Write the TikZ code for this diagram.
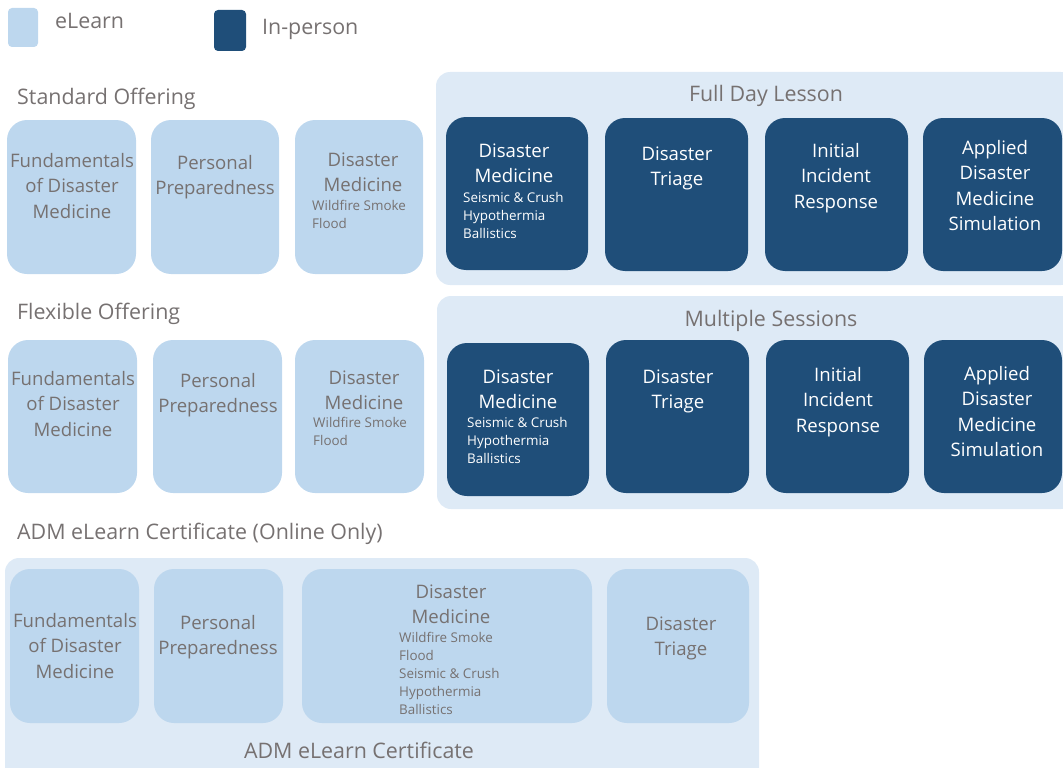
\documentclass[tikz,border=0pt]{standalone}
\usepackage{fontspec}
\setmainfont{Open Sans}
\usetikzlibrary{fit}
\definecolor{lightbox}{HTML}{BDD7EE}
\definecolor{contbg}{HTML}{DEEAF6}
\definecolor{darkbox}{HTML}{1F4E79}
\definecolor{txtgray}{HTML}{767171}
\begin{document}
\begin{tikzpicture}[x=1pt,y=-1pt,
  lbox/.style={fill=lightbox, draw=none, rounded corners=20pt, inner sep=0pt},
  dbox/.style={fill=darkbox, draw=none, rounded corners=20pt, inner sep=0pt},
  cont/.style={fill=contbg, draw=none, rounded corners=14pt, inner sep=0pt},
  legbox/.style={draw=none, rounded corners=4pt, inner sep=0pt},
  big/.style={font=\fontsize{18.6}{25.5}\selectfont, align=center, inner sep=0pt, anchor=north, text=txtgray},
  bigw/.style={big, text=white},
  small/.style={font=\fontsize{13.4}{18}\selectfont, align=left, inner sep=0pt, anchor=north west, text=txtgray},
  smallw/.style={small, text=white},
  head/.style={font=\fontsize{21.4}{25}\selectfont, inner sep=0pt, anchor=base west, text=txtgray},
  title/.style={font=\fontsize{21.4}{25}\selectfont, inner sep=0pt, anchor=base, text=txtgray}
]
\useasboundingbox (0,0) rectangle (1063,768);

% legend
\node[legbox, fill=lightbox, fit={(8,8)(38,47)}] (legL) {};
\node[head] (legLt) at (55,29) {eLearn};
\node[legbox, fill=darkbox, fit={(214,10)(246,51)}] (legD) {};
\node[head] (legDt) at (262,35) {In-person};

% section headers
\node[head] (hStd) at (17,104) {Standard Offering};
\node[head] (hFlex) at (17,319) {Flexible Offering};
\node[head] (hCert) at (17,539) {ADM eLearn Certificate (Online Only)};

% containers
\node[cont, fit={(436,72)(1075,285)}] (cFull) {};
\node[title] (tFull) at (766,101) {Full Day Lesson};
\node[cont, fit={(437,296)(1075,509)}] (cMulti) {};
\node[title] (tMulti) at (771,326) {Multiple Sessions};
\node[cont, fit={(5,558)(759,782)}] (cCert) {};
\node[title] (tCert) at (359,758) {ADM eLearn Certificate};

% row 1: standard offering
\node[lbox, fit={(7,120)(136,274)}] (s1) {};
\node[big] (s1t) at (72,149) {\strut Fundamentals\\of Disaster\\Medicine};
\node[lbox, fit={(151,120)(279,274)}] (s2) {};
\node[big] (s2t) at (215,151) {\strut Personal\\Preparedness};
\node[lbox, fit={(295,120)(423,274)}] (s3) {};
\node[big] (s3t) at (363,148) {\strut Disaster\\Medicine};
\node[small] (s3s) at (312,198) {\strut Wildfire Smoke\\Flood};

\node[dbox, fit={(446,117)(588,270)}] (d1) {};
\node[bigw] (d1t) at (514,139) {\strut Disaster\\Medicine};
\node[smallw] (d1s) at (463,190) {\strut Seismic \& Crush\\Hypothermia\\Ballistics};
\node[dbox, fit={(605,118)(748,271)}] (d2) {};
\node[bigw] (d2t) at (677,142) {\strut Disaster\\Triage};
\node[dbox, fit={(765,118)(908,271)}] (d3) {};
\node[bigw] (d3t) at (836,139) {\strut Initial\\Incident\\Response};
\node[dbox, fit={(923,118)(1062,271)}] (d4) {};
\node[bigw] (d4t) at (995,136) {\strut Applied\\Disaster\\Medicine\\Simulation};

% row 2: flexible offering
\node[lbox, fit={(8,340)(137,493)}] (f1) {};
\node[big] (f1t) at (73,367) {\strut Fundamentals\\of Disaster\\Medicine};
\node[lbox, fit={(153,340)(282,493)}] (f2) {};
\node[big] (f2t) at (218,369) {\strut Personal\\Preparedness};
\node[lbox, fit={(295,340)(424,493)}] (f3) {};
\node[big] (f3t) at (364,366) {\strut Disaster\\Medicine};
\node[small] (f3s) at (313,415) {\strut Wildfire Smoke\\Flood};

\node[dbox, fit={(447,343)(589,496)}] (m1) {};
\node[bigw] (m1t) at (518,365) {\strut Disaster\\Medicine};
\node[smallw] (m1s) at (467,415) {\strut Seismic \& Crush\\Hypothermia\\Ballistics};
\node[dbox, fit={(606,340)(749,493)}] (m2) {};
\node[bigw] (m2t) at (678,365) {\strut Disaster\\Triage};
\node[dbox, fit={(766,340)(909,493)}] (m3) {};
\node[bigw] (m3t) at (838,363) {\strut Initial\\Incident\\Response};
\node[dbox, fit={(924,340)(1062,493)}] (m4) {};
\node[bigw] (m4t) at (997,362) {\strut Applied\\Disaster\\Medicine\\Simulation};

% row 3: certificate
\node[lbox, fit={(10,569)(139,723)}] (c1) {};
\node[big] (c1t) at (75,609) {\strut Fundamentals\\of Disaster\\Medicine};
\node[lbox, fit={(154,569)(283,723)}] (c2) {};
\node[big] (c2t) at (218,611) {\strut Personal\\Preparedness};
\node[lbox, fit={(302,569)(592,723)}] (c3) {};
\node[big] (c3t) at (451,580) {\strut Disaster\\Medicine};
\node[small] (c3s) at (399,630) {\strut Wildfire Smoke\\Flood\\Seismic \& Crush\\Hypothermia\\Ballistics};
\node[lbox, fit={(607,569)(749,723)}] (c4) {};
\node[big] (c4t) at (681,612) {\strut Disaster\\Triage};
\end{tikzpicture}
\end{document}
